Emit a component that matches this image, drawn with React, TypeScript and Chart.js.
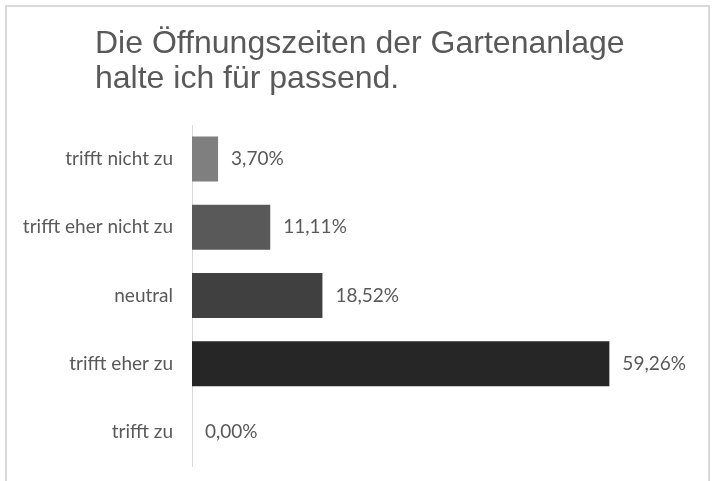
import React, { useEffect, useRef } from "react";
import { Chart, registerables } from "chart.js";

Chart.register(...registerables);

const categories = ["trifft nicht zu", "trifft eher nicht zu", "neutral", "trifft eher zu", "trifft zu"];
const values = [3.7, 11.11, 18.52, 59.26, 0.0];
const barColors = ["#7f7f7f", "#595959", "#404040", "#262626", "#0d0d0d"];
const titleLines = ["Die Öffnungszeiten der Gartenanlage", "halte ich für passend."];

const LABEL_FONT = "Lato, 'Liberation Sans', sans-serif";

export default function App() {
  const ref = useRef<HTMLCanvasElement | null>(null);

  useEffect(() => {
    document.body.style.margin = "0";
    const canvas = ref.current;
    if (!canvas) return;

    const titlePlugin = {
      id: "leftTitle",
      afterDraw(chart: any) {
        const ctx = chart.ctx;
        ctx.save();
        ctx.fillStyle = "#595959";
        ctx.font = "32px 'Liberation Sans', Arial, sans-serif";
        ctx.textBaseline = "alphabetic";
        ctx.textAlign = "left";
        titleLines.forEach((line, i) => ctx.fillText(line, 95, 53 + i * 35));
        ctx.restore();
      },
    };

    const valuePlugin = {
      id: "valueLabels",
      afterDatasetsDraw(chart: any) {
        const ctx = chart.ctx;
        const meta = chart.getDatasetMeta(0);
        ctx.save();
        ctx.font = "19px " + LABEL_FONT;
        ctx.fillStyle = "#595959";
        ctx.textBaseline = "middle";
        ctx.textAlign = "left";
        meta.data.forEach((bar: any, i: number) => {
          const txt = values[i].toFixed(2).replace(".", ",") + "%";
          ctx.fillText(txt, bar.x + 13, bar.y);
        });
        ctx.restore();
      },
    };

    const chart = new Chart(canvas, {
      type: "bar",
      data: {
        labels: categories,
        datasets: [
          {
            data: values,
            backgroundColor: barColors,
            borderWidth: 0,
            categoryPercentage: 1,
            barPercentage: 0.66,
          },
        ],
      },
      options: {
        indexAxis: "y",
        animation: false,
        responsive: false,
        events: [],
        layout: { padding: { top: 125, bottom: 15, left: 0, right: 31 } },
        plugins: {
          legend: { display: false },
          title: { display: false },
          tooltip: { enabled: false },
        },
        scales: {
          x: {
            display: false,
            min: 0,
            max: 70,
          },
          y: {
            type: "category",
            grid: { display: false, drawTicks: false },
            border: { display: true, color: "#d9d9d9", width: 1 },
            ticks: {
              color: "#595959",
              font: { family: LABEL_FONT, size: 19 },
              padding: 19,
            },
            afterFit(scale: any) {
              scale.width = 192;
              scale.paddingTop = 0;
              scale.paddingBottom = 0;
            },
          },
        },
      },
      plugins: [titlePlugin, valuePlugin],
    });

    return () => chart.destroy();
  }, []);

  return (
    <div style={{ position: "relative", width: 716, height: 481, overflow: "hidden", background: "#fff" }}>
      <div
        style={{
          position: "absolute",
          left: 5,
          top: 5,
          width: 701,
          height: 600,
          border: "2px solid #d9d9d9",
          boxSizing: "content-box",
        }}
      />
      <canvas ref={ref} width={716} height={481} style={{ position: "absolute", left: 0, top: 0 }} />
    </div>
  );
}
